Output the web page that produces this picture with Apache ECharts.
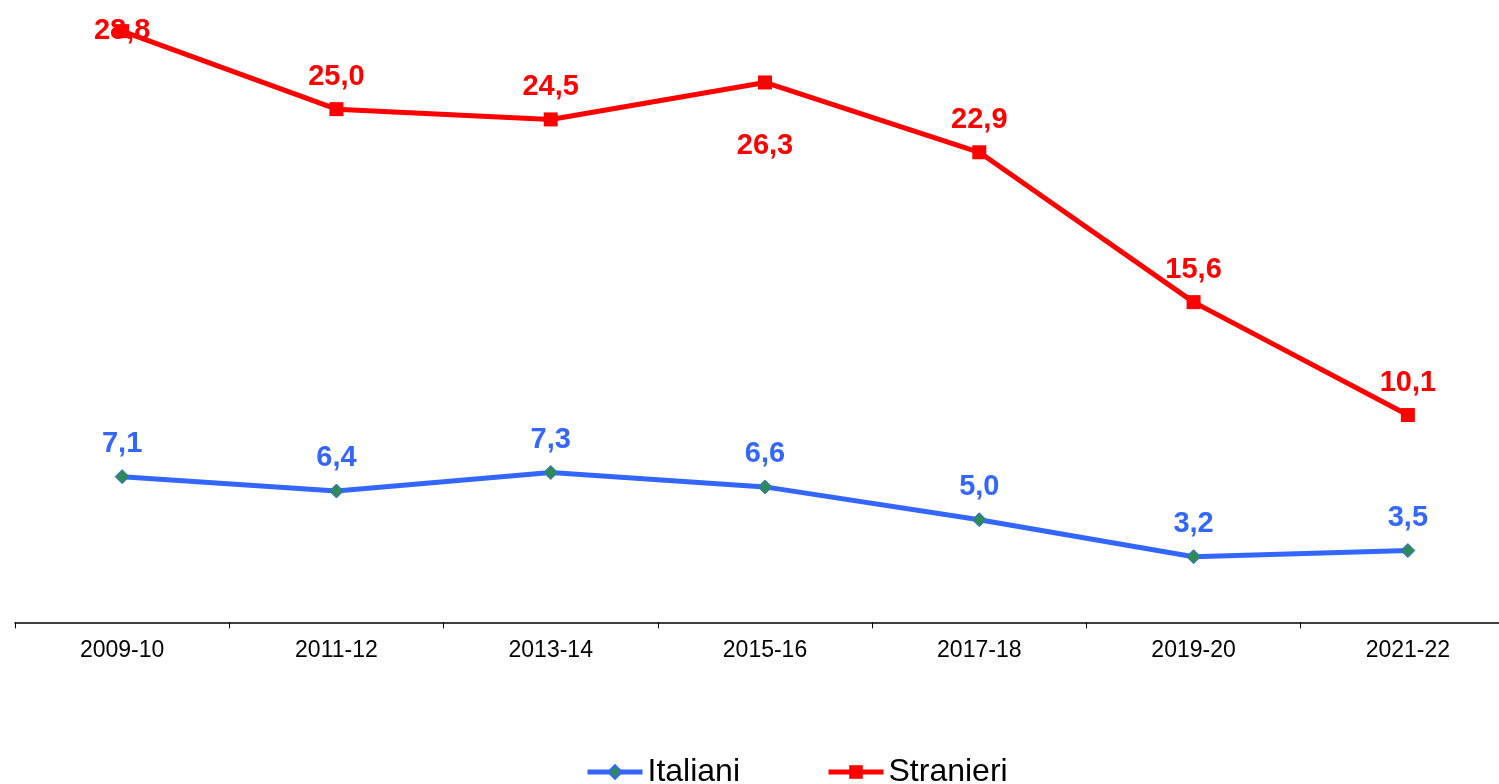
<!DOCTYPE html>
<html><head><meta charset="utf-8">
<script src="https://cdn.jsdelivr.net/npm/echarts@6/dist/echarts.min.js"></script>
<style>html,body{margin:0;padding:0;background:#fff}#c{width:1499px;height:784px}</style>
</head><body><div id="c"></div>
<script>
const categories = ['2009-10','2011-12','2013-14','2015-16','2017-18','2019-20','2021-22'];
const italiani = [7.1, 6.4, 7.3, 6.6, 5.0, 3.2, 3.5];
const stranieri = [28.8, 25.0, 24.5, 26.3, 22.9, 15.6, 10.1];

const fmt = p => p.value.toFixed(1).replace('.', ',');
const labelFont = {fontFamily:'Liberation Sans, Arial, sans-serif', fontWeight:'bold', fontSize:29};

const strData = stranieri.map((v,i)=>{
  if(i===0) return {value:v, label:{position:'inside', offset:[0,0]}};
  if(i===3) return {value:v, label:{position:'bottom', distance:42}};
  return v;
});

const chart = echarts.init(document.getElementById('c'));
chart.setOption({
  animation:false,
  grid:{left:15, width:1500, top:6.5, height:615.9, outerBoundsMode:'none', containLabel:false},
  xAxis:{type:'category', data:categories, boundaryGap:true,
    axisLine:{lineStyle:{color:'#000', width:1.5}},
    axisTick:{show:true, length:6, lineStyle:{color:'#000'}},
    axisLabel:{color:'#000', fontSize:23, fontFamily:'Liberation Sans, Arial, sans-serif', margin:17, interval:0}},
  yAxis:{type:'value', min:0, max:30, show:false, splitLine:{show:false}},
  legend:{left:580, top:751, itemWidth:55, itemHeight:17, itemGap:86,
    lineStyle:{width:5},
    textStyle:{fontSize:32, fontFamily:'Liberation Sans, Arial, sans-serif', color:'#000'},
    data:['Italiani','Stranieri']},
  series:[
    {name:'Italiani', type:'line', data:italiani, symbol:'diamond', symbolSize:14,
      lineStyle:{color:'#3366FF', width:5}, itemStyle:{color:'#2E8B57', borderColor:'#3366FF', borderWidth:1},
      label:{show:true, position:'top', distance:11, color:'#3366FF', formatter:fmt, ...labelFont}, z:2},
    {name:'Stranieri', type:'line', data:strData, symbol:'rect', symbolSize:14,
      lineStyle:{color:'#FF0000', width:5}, itemStyle:{color:'#FF0000'},
      label:{show:true, position:'top', distance:11, color:'#FF0000', formatter:fmt, ...labelFont}, z:3}
  ]
});
</script></body></html>
